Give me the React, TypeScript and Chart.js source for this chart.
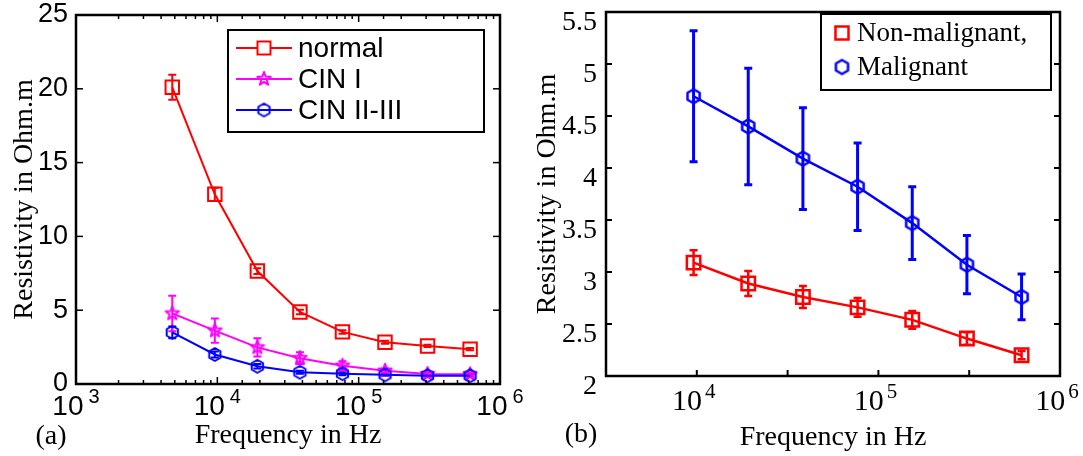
import React, { useEffect, useRef } from 'react';
import { Chart, registerables } from 'chart.js';

Chart.register(...registerables);
Chart.defaults.color = '#000';

// ---------- Panel (a) data ----------
const FREQ_A = [4800, 9600, 19200, 38400, 76800, 153600, 307200, 614400];
const NORMAL = [20.1, 12.85, 7.65, 4.88, 3.53, 2.83, 2.58, 2.36];
const NORMAL_ERR = [0.85, 0.45, 0.2, 0.15, 0.12, 0.1, 0.08, 0.08];
const CIN1 = [4.78, 3.62, 2.48, 1.75, 1.24, 0.9, 0.68, 0.66];
const CIN1_ERR = [1.2, 0.82, 0.62, 0.4, 0.3, 0.15, 0.1, 0.08];
const CIN23 = [3.5, 2.0, 1.2, 0.8, 0.7, 0.62, 0.56, 0.56];
const CIN23_ERR = [0.4, 0.2, 0.15, 0.1, 0.1, 0.06, 0.05, 0.05];
const Y_TICKS_A = [0, 5, 10, 15, 20, 25];
const X_EXP_A = [3, 4, 5, 6];
const LEGEND_A = ['normal', 'CIN I', 'CIN II-III'];

// ---------- Panel (b) data ----------
const FREQ_B = [9600, 19200, 38400, 76800, 153600, 307200, 614400];
const NONMAL = [3.09, 2.89, 2.76, 2.66, 2.54, 2.36, 2.2];
const NONMAL_ERR = [0.12, 0.12, 0.105, 0.09, 0.085, 0.06, 0.04];
const MAL = [4.69, 4.4, 4.09, 3.82, 3.47, 3.07, 2.76];
const MAL_ERR = [0.63, 0.56, 0.49, 0.42, 0.35, 0.28, 0.22];
const Y_TICKS_B = [2, 2.5, 3, 3.5, 4, 4.5, 5, 5.5];
const X_TICKS_B = [1e4, Math.pow(10, 4.5), 1e5, Math.pow(10, 5.5)];
const X_EXP_B = [4, 5, 6];
const LEGEND_B = ['Non-malignant,', 'Malignant'];

const RED = '#ff0000';
const MAGENTA = '#ff00ff';
const BLUE = '#0000ff';
const SANS = '"Liberation Sans", Arial, Helvetica, sans-serif';
const SERIF = '"Liberation Serif", "Times New Roman", Times, serif';

const pts = (xs: number[], ys: number[]) => xs.map((x, i) => ({ x, y: ys[i] }));

function makeMarker(kind: string, color: string, size: number, lw: number): HTMLCanvasElement {
  const d = Math.ceil(size + lw + 2);
  const c = document.createElement('canvas');
  c.width = d;
  c.height = d;
  const g = c.getContext('2d') as CanvasRenderingContext2D;
  g.strokeStyle = color;
  g.lineWidth = lw;
  g.lineJoin = 'round';
  const cx = d / 2;
  const cy = d / 2;
  const R = size / 2;
  g.beginPath();
  if (kind === 'star') {
    for (let i = 0; i < 10; i++) {
      const r = i % 2 === 0 ? R : R * 0.42;
      const a = -Math.PI / 2 + (i * Math.PI) / 5;
      const x = cx + r * Math.cos(a);
      const y = cy + r * Math.sin(a);
      if (i === 0) g.moveTo(x, y);
      else g.lineTo(x, y);
    }
  } else {
    for (let i = 0; i < 6; i++) {
      const a = -Math.PI / 2 + (i * Math.PI) / 3;
      const x = cx + R * Math.cos(a);
      const y = cy + R * Math.sin(a);
      if (i === 0) g.moveTo(x, y);
      else g.lineTo(x, y);
    }
  }
  g.closePath();
  g.stroke();
  return c;
}

// Error bars drawn through the chart's scales
const errorBars = {
  id: 'errorBars',
  beforeDatasetsDraw(chart: any) {
    const { ctx, chartArea: a } = chart;
    const xs = chart.scales.x;
    const ys = chart.scales.y;
    ctx.save();
    ctx.beginPath();
    ctx.rect(a.left, a.top, a.right - a.left, a.bottom - a.top);
    ctx.clip();
    const list = chart.data.datasets.map((d: any, i: number) => ({ d, i })).reverse();
    list.forEach(({ d }: any) => {
      if (!d.errors) return;
      ctx.strokeStyle = d.borderColor;
      ctx.lineWidth = d.errorWidth || 2;
      const cap = d.capHalf || 4;
      d.data.forEach((p: any, i: number) => {
        const e = d.errors[i];
        const x = xs.getPixelForValue(p.x);
        const y1 = ys.getPixelForValue(p.y - e);
        const y2 = ys.getPixelForValue(p.y + e);
        ctx.beginPath();
        ctx.moveTo(x, y1);
        ctx.lineTo(x, y2);
        ctx.moveTo(x - cap, y1);
        ctx.lineTo(x + cap, y1);
        ctx.moveTo(x - cap, y2);
        ctx.lineTo(x + cap, y2);
        ctx.stroke();
      });
    });
    ctx.restore();
  },
};

// Box frame + inward tick marks (MATLAB style)
const boxAxes = {
  id: 'boxAxes',
  afterDatasetsDraw(chart: any, _args: any, o: any) {
    const { ctx, chartArea: a } = chart;
    const xs = chart.scales.x;
    const ys = chart.scales.y;
    ctx.save();
    ctx.strokeStyle = '#000';
    ctx.lineWidth = o.tickWidth;
    const seg = (x1: number, y1: number, x2: number, y2: number) => {
      ctx.beginPath();
      ctx.moveTo(x1, y1);
      ctx.lineTo(x2, y2);
      ctx.stroke();
    };
    xs.ticks.forEach((t: any) => {
      const px = xs.getPixelForValue(t.value);
      if (px < a.left + 1 || px > a.right - 1) return;
      const lg = Math.log10(t.value);
      const major = Math.abs(lg - Math.round(lg)) < 1e-6;
      const len = major ? o.xMajor : o.xMinor;
      seg(px, a.bottom, px, a.bottom - len);
      if (o.top) seg(px, a.top, px, a.top + len);
    });
    ys.ticks.forEach((t: any) => {
      const py = ys.getPixelForValue(t.value);
      if (py < a.top + 1 || py > a.bottom - 1) return;
      seg(a.left, py, a.left + o.yLen, py);
      seg(a.right, py, a.right - o.yLen, py);
    });
    ctx.lineWidth = o.frameWidth;
    ctx.strokeRect(a.left, a.top, a.right - a.left, a.bottom - a.top);
    ctx.restore();
  },
};

// x tick labels of the form 10^n with a raised exponent
const xPow = {
  id: 'xPow',
  afterDraw(chart: any, _args: any, o: any) {
    const { ctx, chartArea: a } = chart;
    const xs = chart.scales.x;
    ctx.save();
    ctx.fillStyle = '#000';
    ctx.textBaseline = 'middle';
    ctx.textAlign = 'left';
    o.exps.forEach((e: number) => {
      const px = xs.getPixelForValue(Math.pow(10, e));
      const base = `${o.size}px ${o.family}`;
      const sup = `${o.expSize}px ${o.family}`;
      ctx.font = base;
      const w1 = ctx.measureText('10').width;
      ctx.font = sup;
      const w2 = ctx.measureText(String(e)).width;
      const x0 = px - (w1 + o.gap + w2) / 2 + o.shift;
      ctx.font = base;
      ctx.fillText('10', x0, a.bottom + o.dy);
      ctx.font = sup;
      ctx.fillText(String(e), x0 + w1 + o.gap, a.bottom + o.dy - o.raise);
    });
    ctx.restore();
  },
};

// Boxed legend inside the plot
const boxLegend = {
  id: 'boxLegend',
  afterDraw(chart: any, _args: any, o: any) {
    const { ctx } = chart;
    ctx.save();
    ctx.fillStyle = '#fff';
    ctx.fillRect(o.left, o.top, o.right - o.left, o.bottom - o.top);
    ctx.strokeStyle = '#000';
    ctx.lineWidth = 2;
    ctx.strokeRect(o.left, o.top, o.right - o.left, o.bottom - o.top);
    o.labels.forEach((label: string, i: number) => {
      const d = chart.data.datasets[i];
      const y = o.firstRow + i * o.rowGap;
      if (o.lineFrom != null) {
        ctx.strokeStyle = d.borderColor;
        ctx.lineWidth = d.borderWidth;
        ctx.beginPath();
        ctx.moveTo(o.lineFrom, y);
        ctx.lineTo(o.lineTo, y);
        ctx.stroke();
      }
      if (d.pointStyle === 'rect') {
        const s = o.squareSide;
        ctx.strokeStyle = d.pointBorderColor;
        ctx.lineWidth = d.pointBorderWidth;
        ctx.fillStyle = '#fff';
        ctx.fillRect(o.markerX - s / 2, y - s / 2, s, s);
        ctx.strokeRect(o.markerX - s / 2, y - s / 2, s, s);
      } else {
        const img = d.pointStyle;
        ctx.drawImage(img, o.markerX - img.width / 2, y - img.height / 2);
      }
      ctx.fillStyle = '#000';
      ctx.font = `${o.size}px ${o.family}`;
      ctx.textBaseline = 'middle';
      ctx.textAlign = 'left';
      ctx.fillText(label, o.textX, y + o.textDy);
    });
    ctx.restore();
  },
};

const panelTag = {
  id: 'panelTag',
  afterDraw(chart: any, _args: any, o: any) {
    const { ctx } = chart;
    ctx.save();
    ctx.fillStyle = '#000';
    ctx.font = `${o.size}px ${o.family}`;
    ctx.textAlign = 'center';
    ctx.textBaseline = 'middle';
    ctx.fillText(o.text, o.x, o.y);
    ctx.restore();
  },
};

const noGrid = { display: false, drawTicks: false };

const fixY = (w: number) => (s: any) => {
  s.width = w;
  s.paddingTop = 0;
  s.paddingBottom = 0;
};
const fixX = (h: number) => (s: any) => {
  s.height = h;
  s.paddingLeft = 0;
  s.paddingRight = 0;
};

function makeConfigA(): any {
  const star = makeMarker('star', MAGENTA, 14, 2);
  const hex = makeMarker('hex', BLUE, 13, 2);
  return {
    type: 'line',
    data: {
      datasets: [
        {
          label: LEGEND_A[0], data: pts(FREQ_A, NORMAL), errors: NORMAL_ERR,
          borderColor: RED, backgroundColor: 'transparent', borderWidth: 2,
          pointStyle: 'rect', pointRadius: 9.5, pointBorderWidth: 2,
          pointBorderColor: RED, pointBackgroundColor: 'transparent',
          errorWidth: 2, capHalf: 4, order: 2, tension: 0,
        },
        {
          label: LEGEND_A[1], data: pts(FREQ_A, CIN1), errors: CIN1_ERR,
          borderColor: MAGENTA, backgroundColor: 'transparent', borderWidth: 2,
          pointStyle: star, pointRadius: 7, errorWidth: 2, capHalf: 4, order: 1, tension: 0,
        },
        {
          label: LEGEND_A[2], data: pts(FREQ_A, CIN23), errors: CIN23_ERR,
          borderColor: BLUE, backgroundColor: 'transparent', borderWidth: 2,
          pointStyle: hex, pointRadius: 7, errorWidth: 2, capHalf: 4, order: 0, tension: 0,
        },
      ],
    },
    options: {
      responsive: false,
      animation: false,
      events: [],
      layout: { padding: { left: 0, right: 28, top: 15, bottom: 0 } },
      plugins: {
        legend: { display: false },
        tooltip: { enabled: false },
        boxAxes: { tickWidth: 1.5, frameWidth: 2.5, xMajor: 7, xMinor: 4, yLen: 7, top: true },
        xPow: { exps: X_EXP_A, family: SANS, size: 28, expSize: 20, gap: 5, raise: 10, dy: 23, shift: 0 },
        boxLegend: {
          labels: LEGEND_A, left: 228, top: 30, right: 484, bottom: 132,
          firstRow: 48, rowGap: 31, lineFrom: 236, lineTo: 292, markerX: 264,
          squareSide: 13, textX: 298, textDy: 1, size: 28, family: SANS,
        },
        panelTag: { text: '(a)', x: 51, y: 437, size: 28, family: SERIF },
      },
      scales: {
        x: {
          type: 'logarithmic', min: 1e3, max: 1e6,
          grid: noGrid, border: { display: false },
          ticks: { display: false, autoSkip: false },
          afterFit: fixX(72),
          title: { display: true, text: 'Frequency in Hz', color: '#000', font: { family: SERIF, size: 28 }, padding: { top: 0, bottom: 4 } },
        },
        y: {
          type: 'linear', min: 0, max: 25,
          afterBuildTicks: (s: any) => { s.ticks = Y_TICKS_A.map((v) => ({ value: v })); },
          grid: noGrid, border: { display: false },
          ticks: { color: '#000', font: { family: SANS, size: 27 }, padding: 8, callback: (v: any) => String(v) },
          afterFit: fixY(76),
          title: { display: true, text: 'Resistivity in Ohm.m', color: '#000', font: { family: SERIF, size: 28 }, padding: { top: 8, bottom: 0 } },
        },
      },
    },
    plugins: [errorBars, boxAxes, xPow, boxLegend, panelTag],
  };
}

function makeConfigB(): any {
  const hex = makeMarker('hex', BLUE, 14, 2.5);
  return {
    type: 'line',
    data: {
      datasets: [
        {
          label: LEGEND_B[0], data: pts(FREQ_B, NONMAL), errors: NONMAL_ERR,
          borderColor: RED, backgroundColor: 'transparent', borderWidth: 2.5,
          pointStyle: 'rect', pointRadius: 9.5, pointBorderWidth: 2.5,
          pointBorderColor: RED, pointBackgroundColor: 'transparent',
          errorWidth: 2.5, capHalf: 4, order: 1, tension: 0,
        },
        {
          label: LEGEND_B[1], data: pts(FREQ_B, MAL), errors: MAL_ERR,
          borderColor: BLUE, backgroundColor: 'transparent', borderWidth: 2.5,
          pointStyle: hex, pointRadius: 7, errorWidth: 3, capHalf: 4, order: 0, tension: 0,
        },
      ],
    },
    options: {
      responsive: false,
      animation: false,
      events: [],
      layout: { padding: { left: 0, right: 23, top: 6, bottom: 0 } },
      plugins: {
        legend: { display: false },
        tooltip: { enabled: false },
        boxAxes: { tickWidth: 2, frameWidth: 2.5, xMajor: 6, xMinor: 6, yLen: 6, top: false },
        xPow: { exps: X_EXP_B, family: SERIF, size: 30, expSize: 21, gap: 3, raise: 10, dy: 26, shift: -3 },
        boxLegend: {
          labels: LEGEND_B, left: 293, top: 14, right: 523, bottom: 90,
          firstRow: 33, rowGap: 34, lineFrom: null, lineTo: null, markerX: 314,
          squareSide: 13, textX: 329, textDy: 1, size: 27, family: SERIF,
        },
        panelTag: { text: '(b)', x: 53, y: 435, size: 28, family: SERIF },
      },
      scales: {
        x: {
          type: 'logarithmic', min: Math.pow(10, 3.5), max: 1e6,
          afterBuildTicks: (s: any) => { s.ticks = X_TICKS_B.map((v) => ({ value: v })); },
          grid: noGrid, border: { display: false },
          ticks: { display: false, autoSkip: false },
          afterFit: fixX(80),
          title: { display: true, text: 'Frequency in Hz', color: '#000', font: { family: SERIF, size: 28 }, padding: { top: 0, bottom: 2 } },
        },
        y: {
          type: 'linear', min: 2, max: 5.5,
          afterBuildTicks: (s: any) => { s.ticks = Y_TICKS_B.map((v) => ({ value: v })); },
          grid: noGrid, border: { display: false },
          ticks: { color: '#000', font: { family: SERIF, size: 28 }, padding: 9, labelOffset: 11, callback: (v: any) => String(v) },
          afterFit: fixY(78),
          title: { display: true, text: 'Resistivity in Ohm.m', color: '#000', font: { family: SERIF, size: 28 }, padding: { top: 3, bottom: 0 } },
        },
      },
    },
    plugins: [errorBars, boxAxes, xPow, boxLegend, panelTag],
  };
}

export default function App() {
  const refA = useRef<HTMLCanvasElement | null>(null);
  const refB = useRef<HTMLCanvasElement | null>(null);

  useEffect(() => {
    const a = new Chart(refA.current as HTMLCanvasElement, makeConfigA());
    const b = new Chart(refB.current as HTMLCanvasElement, makeConfigB());
    return () => {
      a.destroy();
      b.destroy();
    };
  }, []);

  return (
    <div style={{ position: 'absolute', left: 0, top: 0, width: 1083, height: 456, background: '#fff' }}>
      <canvas ref={refA} width={528} height={456} style={{ position: 'absolute', left: 0, top: 0, width: 528, height: 456 }} />
      <canvas ref={refB} width={555} height={456} style={{ position: 'absolute', left: 528, top: 0, width: 555, height: 456 }} />
    </div>
  );
}
